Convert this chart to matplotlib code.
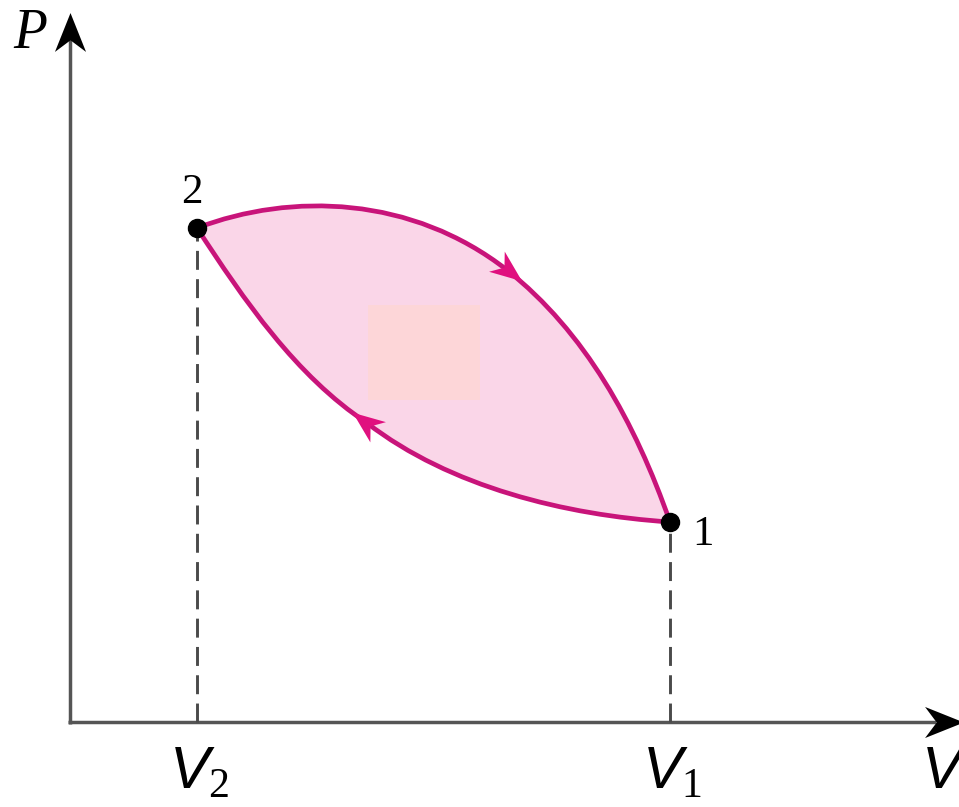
"""P-V diagram of a cyclic process between states 1 and 2."""
import matplotlib
matplotlib.use("Agg")
import matplotlib.pyplot as plt
import numpy as np
from matplotlib.markers import MarkerStyle
from matplotlib.patches import PathPatch, Rectangle
from matplotlib.path import Path
from matplotlib.transforms import Affine2D

plt.rcParams["mathtext.fontset"] = "custom"
plt.rcParams["mathtext.it"] = "Liberation Sans:italic"
plt.rcParams["mathtext.rm"] = "Liberation Serif"

# states (V, P) in diagram units, origin at the axes corner
V2, P2 = 127, 494
V1, P1 = 600, 200

# upper branch 2 -> 1 (two cubic Bezier pieces, control points)
upper_a = [(V2, P2), (222, 530), (342, 526), (437, 452)]
upper_b = [(437, 452), (515, 390), (565, 300), (V1, P1)]
# lower branch 1 -> 2
lower_a = [(V1, P1), (495, 207), (380, 235), (297, 299)]
lower_b = [(297, 299), (226, 346), (174, 422), (V2, P2)]

# patch of colour in the middle of the loop (V range, P range)
blob_v = [298, 410]
blob_p = [322, 417]

state_labels = ["1", "2"]
axis_labels = ["P", "V"]
tick_labels = [r"$V_2$", r"$V_1$"]

CURVE = "#c8147a"
HEAD = "#e0107f"
FILL = "#fad6e8"
AXIS = "#555555"

ARROW = Path([(1, 0), (-1, 0.8), (-0.4, 0), (-1, -0.8), (1, 0)],
             [Path.MOVETO, Path.LINETO, Path.LINETO, Path.LINETO, Path.CLOSEPOLY])


def head(ax, x, y, dx, dy, size, color):
    ang = np.degrees(np.arctan2(dy, dx))
    m = MarkerStyle(ARROW, transform=Affine2D().rotate_deg(ang))
    ax.plot([x], [y], marker=m, ms=size, color=color, mec=color, mew=0, zorder=6)


def bez(pieces, move=True):
    verts, codes = [], []
    for i, p in enumerate(pieces):
        if i == 0:
            verts.append(p[0])
            codes.append(Path.MOVETO if move else Path.LINETO)
        verts.extend(p[1:])
        codes.extend([Path.CURVE4] * 3)
    return verts, codes


fig = plt.figure(figsize=(9.59, 8.07), dpi=100)
ax = fig.add_axes([0, 0, 1, 1])
ax.set_xlim(-70, 889)
ax.set_ylim(-85, 722)
ax.set_aspect("equal")
ax.axis("off")

# shaded loop
v_up, c_up = bez([upper_a, upper_b])
v_lo, c_lo = bez([lower_a, lower_b], move=False)
loop = Path(v_up + v_lo[1:] + [(V2, P2)],
            c_up + c_lo[1:] + [Path.CLOSEPOLY])
ax.add_patch(PathPatch(loop, facecolor=FILL, edgecolor="none", zorder=1))
ax.add_patch(Rectangle((blob_v[0], blob_p[0]), blob_v[1] - blob_v[0],
                       blob_p[1] - blob_p[0], facecolor="#fdd6d8",
                       edgecolor="none", zorder=1.5))

for pieces in ([upper_a, upper_b], [lower_a, lower_b]):
    v, c = bez(pieces)
    ax.add_patch(PathPatch(Path(v, c), facecolor="none", edgecolor=CURVE,
                           lw=3.4, capstyle="round", zorder=3))

# direction arrows at the joins of the pieces
for seg in (upper_a, lower_a):
    (x0, y0), (x1, y1) = seg[2], seg[3]
    d = np.hypot(x1 - x0, y1 - y0)
    ux, uy = (x1 - x0) / d, (y1 - y0) / d
    head(ax, x1 + 2 * ux, y1 + 2 * uy, ux, uy, 23, HEAD)

# axes
ax.plot([-2, 866], [0, 0], color=AXIS, lw=2.5, zorder=2, solid_capstyle="butt")
ax.plot([0, 0], [-2, 684], color=AXIS, lw=2.5, zorder=2, solid_capstyle="butt")
head(ax, 874, 0, 1, 0, 28, "black")
head(ax, 0, 690, 0, 1, 28, "black")

# drop lines
for v, p in ((V2, P2), (V1, P1)):
    ax.plot([v, v], [0, p], color="#4a4a4a", lw=2.1, ls=(0, (6.5, 3.2)), zorder=2)

# state points
ax.plot([V1, V2], [P1, P2], "o", color="black", ms=13, zorder=7)

serif = "Liberation Serif"
ax.text(V1 + 22, P1 - 13, state_labels[0], fontsize=31, family=serif,
        ha="left", va="center")
ax.text(V2 - 5, P2 + 35, state_labels[1], fontsize=31, family=serif,
        ha="center", va="center")
ax.text(-40, 688, axis_labels[0], fontsize=40, family=serif, style="italic",
        ha="center", va="center")

for v, lab in zip([V2, V1], tick_labels):
    ax.text(v + 2, -50, lab, fontsize=43, ha="center", va="center")
ax.text(851, -50, r"$V$", fontsize=43, ha="left", va="center")

fig.savefig("out.png", dpi=100)
